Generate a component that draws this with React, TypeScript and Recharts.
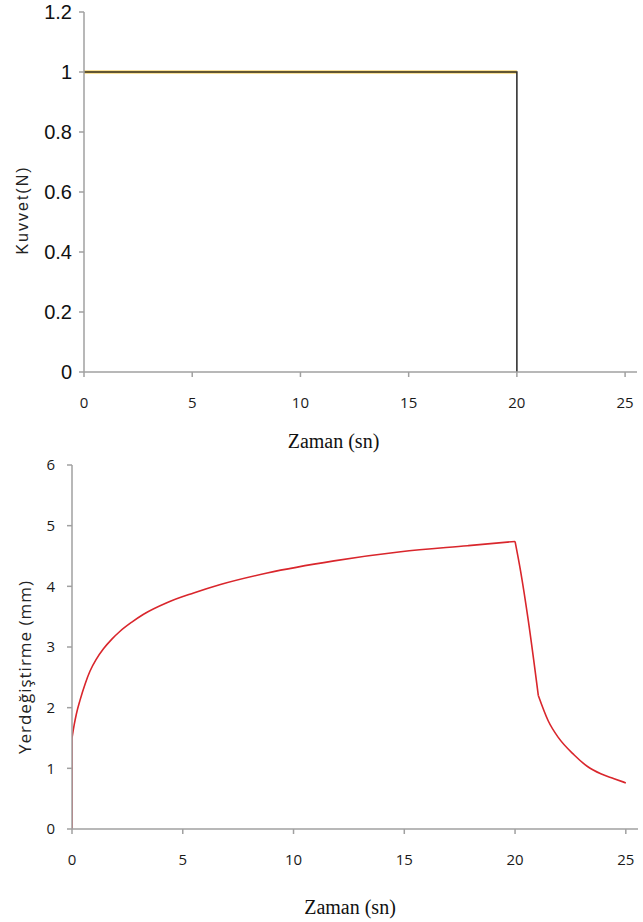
import React from 'react';
import { LineChart, Line, XAxis, YAxis, Label } from 'recharts';

// Top chart: force (N) vs time (s)
const forceTime = [0, 20, 20];
const forceValue = [1, 1, 0];
const holdTime = [0, 20];
const holdValue = [1, 1];

// Bottom chart: displacement (mm) vs time (s)
const jumpTime = [0, 0];
const jumpValue = [0, 1.5];
const riseTime = [0, 0.1, 0.2, 0.36, 0.6, 0.81, 1.1, 1.42, 1.8, 2.17, 2.7, 3.23, 4.28, 5.49, 6.7, 8.81, 11.83, 14.84, 17.86, 20];
const riseValue = [1.5, 1.72, 1.9, 2.12, 2.4, 2.6, 2.8, 2.97, 3.13, 3.26, 3.41, 3.54, 3.73, 3.89, 4.03, 4.22, 4.42, 4.57, 4.67, 4.74];
const dropTime = [20, 20.25, 20.6, 21.05];
const dropValue = [4.74, 4.25, 3.43, 2.2];
const decayTime = [21.05, 21.5, 21.95, 22.67, 23.27, 23.87, 24.47, 25];
const decayValue = [2.2, 1.78, 1.51, 1.22, 1.03, 0.91, 0.83, 0.76];

const timeTicks = [0, 5, 10, 15, 20, 25];
const forceTicks = [0, 0.2, 0.4, 0.6, 0.8, 1, 1.2];
const dispTicks = [0, 1, 2, 3, 4, 5, 6];

const xTitle = 'Zaman (sn)';
const forceTitle = 'Kuvvet(N)';
const dispTitle = 'Yerdeğiştirme (mm)';

const pairs = (ts: number[], vs: number[]) => ts.map((t, i) => ({ t, v: vs[i] }));
const forceData = pairs(forceTime, forceValue);
const holdData = pairs(holdTime, holdValue);
const jumpData = pairs(jumpTime, jumpValue);
const riseData = pairs(riseTime, riseValue);
const dropData = pairs(dropTime, dropValue);
const decayData = pairs(decayTime, decayValue);

const AXIS = '#a0a0a0';
const RED = '#d9262c';
const smallTick = { fontFamily: '"Open Sans", sans-serif', fontSize: 15, fill: '#1a1a1a' };
const bigTick = { fontFamily: '"Liberation Sans", Arial, sans-serif', fontSize: 20, fill: '#111' };

const xTitleContent = (dx: number, dy: number) => (props: any) => {
  const vb = props.viewBox || {};
  return (
    <text
      x={vb.x + vb.width / 2 + dx}
      y={vb.y + dy}
      textAnchor="middle"
      fontFamily='"Liberation Serif", "Times New Roman", serif'
      fontSize={20}
      fill="#111"
    >
      {xTitle}
    </text>
  );
};

const yTitleContent = (text: string, cx: number, dy: number, font: string, size: number, spacing: number) => (props: any) => {
  const vb = props.viewBox || {};
  const cy = vb.y + vb.height / 2 + dy;
  return (
    <text
      x={cx}
      y={cy}
      transform={`rotate(-90, ${cx}, ${cy})`}
      textAnchor="middle"
      dominantBaseline="central"
      fontFamily={font}
      fontSize={size}
      letterSpacing={spacing}
      fill="#222"
    >
      {text}
    </text>
  );
};

export default function App() {
  return (
    <div style={{ position: 'absolute', left: 0, top: 0, width: 643, height: 922, background: '#fff' }}>
      <div style={{ position: 'absolute', left: 0, top: 0 }}>
        <LineChart width={643} height={456} margin={{ top: 12, right: 6, bottom: 54, left: 0 }}>
          <XAxis
            dataKey="t"
            type="number"
            domain={[0, 25.55]}
            ticks={timeTicks}
            allowDataOverflow
            height={30}
            stroke={AXIS}
            strokeWidth={1.5}
            tickSize={5}
            tickMargin={20}
            tick={smallTick}
          >
            <Label content={xTitleContent(-27, 76)} />
          </XAxis>
          <YAxis
            type="number"
            domain={[0, 1.2]}
            ticks={forceTicks}
            width={84}
            stroke={AXIS}
            strokeWidth={1.5}
            tickSize={5}
            tickMargin={7}
            tick={bigTick}
          >
            <Label content={yTitleContent(forceTitle, 22.5, 18, '"Liberation Sans", Arial, sans-serif', 16, 2)} />
          </YAxis>
          <Line data={holdData} dataKey="v" type="linear" stroke="#f2c232" strokeWidth={3} dot={false} isAnimationActive={false} />
          <Line data={forceData} dataKey="v" type="linear" stroke="#333333" strokeWidth={1.6} dot={false} isAnimationActive={false} />
        </LineChart>
      </div>
      <div style={{ position: 'absolute', left: 0, top: 440 }}>
        <LineChart width={643} height={482} margin={{ top: 25, right: 5, bottom: 63, left: 0 }}>
          <XAxis
            dataKey="t"
            type="number"
            domain={[0, 25.55]}
            ticks={timeTicks}
            allowDataOverflow
            height={30}
            stroke={AXIS}
            strokeWidth={1.5}
            tickSize={5}
            tickMargin={20}
            tick={smallTick}
          >
            <Label content={xTitleContent(-5, 85)} />
          </XAxis>
          <YAxis
            type="number"
            domain={[0, 6]}
            ticks={dispTicks}
            width={72}
            stroke={AXIS}
            strokeWidth={1.5}
            tickSize={5}
            tickMargin={12}
            tick={smallTick}
          >
            <Label content={yTitleContent(dispTitle, 24, 20, '"Open Sans", sans-serif', 17, 1)} />
          </YAxis>
          <Line data={jumpData} dataKey="v" type="linear" stroke={RED} strokeWidth={1.6} dot={false} isAnimationActive={false} />
          <Line data={riseData} dataKey="v" type="monotoneX" stroke={RED} strokeWidth={1.6} dot={false} isAnimationActive={false} />
          <Line data={dropData} dataKey="v" type="monotoneX" stroke={RED} strokeWidth={1.6} dot={false} isAnimationActive={false} />
          <Line data={decayData} dataKey="v" type="monotoneX" stroke={RED} strokeWidth={1.6} dot={false} isAnimationActive={false} />
        </LineChart>
      </div>
    </div>
  );
}
